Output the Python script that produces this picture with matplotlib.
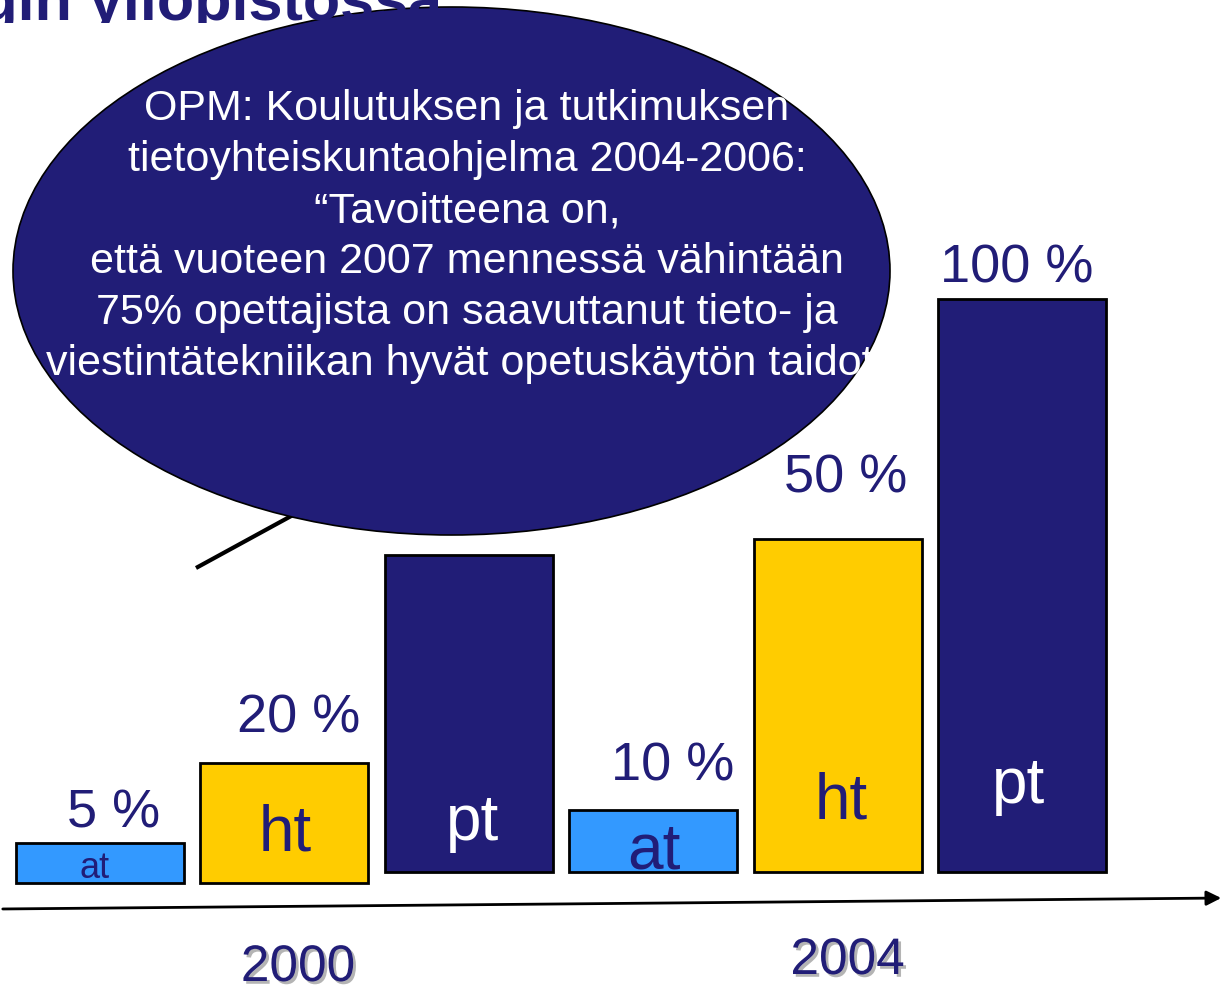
import matplotlib
matplotlib.use("Agg")
import matplotlib.pyplot as plt
import matplotlib.patheffects as pe
from matplotlib.patches import Ellipse, Rectangle

BAR_LABELS = ["at", "ht", "pt", "at", "ht", "pt"]
BAR_HEIGHTS = [7.0, 20.9, 55.3, 10.8, 58.1, 100.0]
PCT_LABELS = ["5 %", "20 %", "", "10 %", "50 %", "100 %"]
YEARS = ["2000", "2004"]
YEAR_BAR = [1, 4]
CALLOUT_LINES = [
    "OPM: Koulutuksen ja tutkimuksen",
    "tietoyhteiskuntaohjelma 2004-2006:",
    "\u201cTavoitteena on,",
    "että vuoteen 2007 mennessä vähintään",
    "75% opettajista on saavuttanut tieto- ja",
    "viestintätekniikan hyvät opetuskäytön taidot\u201d",
]
TITLE = "Helsingin yliopistossa"

# Styles / layout
NAVY = "#211D77"
BAR_COLORS = ["#3399FF", "#FFCC00", NAVY, "#3399FF", "#FFCC00", NAVY]
INNER_COLORS = [NAVY, NAVY, "white", NAVY, NAVY, "white"]
INNER_SIZES = [26, 46, 46, 46, 46, 46]
INNER_OFFSETS = [(-5, 5), (1, 33), (4, 32), (1, 4), (4, 54), (-4, 69)]  # px from bar bottom
PCT_OFFSETS = [(14, 15), (15, 31), (0, 0), (20, 30), (8, 47), (-5, 17)]  # px from bar top
BOTTOMS = [-1.05, -1.05, 0.87, 0.87, 0.87, 0.87]
YEAR_OFFSETS = [(14, -104), (10, -97)]
W, H = 1228, 990
X0_PX, X_SCALE = 99.6, 184.5
BASE_PX, Y_SCALE = 877, 5.73

fig = plt.figure(figsize=(W / 100, H / 100), dpi=100)
plt.rcParams["font.family"] = ["Liberation Sans", "DejaVu Sans"]

# decoration layer in pixel coordinates (top-left origin)
deco = fig.add_axes([0, 0, 1, 1], zorder=0)
deco.set_xlim(0, W)
deco.set_ylim(H, 0)
deco.axis("off")

# title only partly on the slide: keep the strip below the top edge
title = deco.text(442, 20, TITLE, ha="right", va="baseline", fontsize=44,
                  fontweight="bold", color=NAVY, clip_on=True)
title.set_clip_path(Rectangle((0, -100), W, 123, transform=deco.transData))

# callout tail + bubble
deco.plot([196, 315], [568, 503], color="black", lw=3, solid_capstyle="butt", zorder=1)
bubble = Ellipse((451.5, 271), 877, 528, facecolor=NAVY, edgecolor="black", lw=1.2, zorder=2)
deco.add_patch(bubble)
for k, line in enumerate(CALLOUT_LINES):
    t = deco.text(467, 120 + k * 51, line, ha="center", va="baseline",
                  fontsize=31, color="white", zorder=3, clip_on=True)
    t.set_clip_path(bubble)

# axis arrow
deco.annotate("", xy=(1224, 898), xytext=(0, 909),
              arrowprops=dict(arrowstyle="-|>", color="black", lw=2, mutation_scale=22))

# bars layer
ax = fig.add_axes([0, 0, 1, 1], zorder=1)
ax.patch.set_alpha(0)
ax.set_xlim(-X0_PX / X_SCALE, (W - X0_PX) / X_SCALE)
ax.set_ylim(-(H - BASE_PX) / Y_SCALE, BASE_PX / Y_SCALE)
ax.axis("off")

xs = list(range(len(BAR_HEIGHTS)))
ax.bar(xs, BAR_HEIGHTS, bottom=BOTTOMS, width=0.91, color=BAR_COLORS,
       edgecolor="black", linewidth=2)

for i, x in enumerate(xs):
    top = BOTTOMS[i] + BAR_HEIGHTS[i]
    ax.annotate(BAR_LABELS[i], xy=(x, BOTTOMS[i]), xytext=INNER_OFFSETS[i],
                textcoords="offset pixels", ha="center", va="baseline",
                fontsize=INNER_SIZES[i], color=INNER_COLORS[i])
    if PCT_LABELS[i]:
        ax.annotate(PCT_LABELS[i], xy=(x, top), xytext=PCT_OFFSETS[i],
                    textcoords="offset pixels", ha="center", va="baseline",
                    fontsize=39, color=NAVY)

for year, bi, off in zip(YEARS, YEAR_BAR, YEAR_OFFSETS):
    ax.annotate(year, xy=(bi, 0), xytext=off, textcoords="offset pixels",
                ha="center", va="baseline", fontsize=37, color=NAVY,
                path_effects=[pe.SimplePatchShadow(offset=(2, -2), shadow_rgbFace="#b4b4b4", alpha=1),
                              pe.Normal()])

fig.savefig("out.png", dpi=100)
